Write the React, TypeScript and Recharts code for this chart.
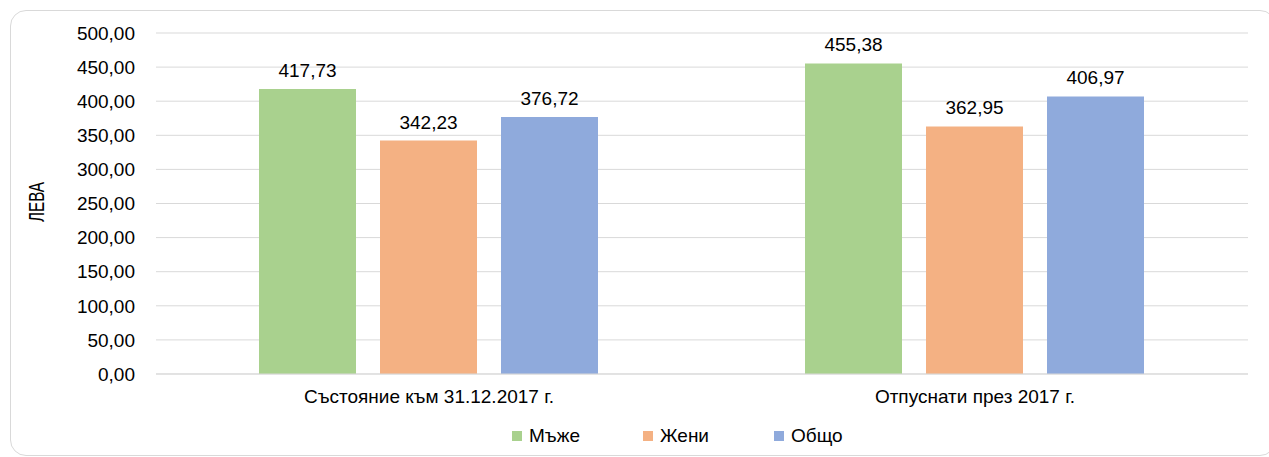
import React from 'react';
import { BarChart, Bar, XAxis, YAxis, CartesianGrid, Legend, LabelList, Label } from 'recharts';

const categories = ['Състояние към 31.12.2017 г.', 'Отпуснати през 2017 г.'];
const men = [417.73, 455.38];
const women = [342.23, 362.95];
const total = [376.72, 406.97];
const yTicks = [0, 50, 100, 150, 200, 250, 300, 350, 400, 450, 500];
const seriesNames = ['Мъже', 'Жени', 'Общо'];
const seriesColors = ['#A9D18E', '#F4B183', '#8FAADC'];
const yLabel = 'ЛЕВА';

const data = categories.map((c, i) => ({ name: c, men: men[i], women: women[i], total: total[i] }));
const keys = ['men', 'women', 'total'];

const fmt = (v: number) => v.toFixed(2).replace('.', ',');
const FONT = '"Liberation Sans", Arial, sans-serif';
const FS = 19;

const LegendContent = () => (
  <div style={{ display: 'flex', height: 24, alignItems: 'center', paddingLeft: 512, fontFamily: FONT, fontSize: FS, color: '#000' }}>
    {seriesNames.map((n, i) => (
      <div key={n} style={{ display: 'flex', alignItems: 'center', width: i < 2 ? 131 : 'auto' }}>
        <span style={{ display: 'inline-block', width: 10, height: 10, background: seriesColors[i], marginRight: 7 }} />
        <span>{n}</span>
      </div>
    ))}
  </div>
);

export default function App() {
  return (
    <div style={{ position: 'absolute', left: 0, top: 0, width: 1269, height: 457, background: '#fff' }}>
      <div style={{ position: 'absolute', left: 10, top: 10, width: 1264, height: 444, border: '1.5px solid #D9D9D9', borderRadius: 16 }} />
      <BarChart
        width={1269}
        height={457}
        data={data}
        margin={{ top: 33, right: 21, left: 0, bottom: 9 }}
        barCategoryGap={103}
        barGap={24}
        style={{ position: 'absolute', left: 0, top: 0 }}
      >
        <CartesianGrid vertical={false} stroke="#D9D9D9" strokeWidth={1} />
        <XAxis
          dataKey="name"
          height={50}
          tickLine={false}
          axisLine={{ stroke: '#D9D9D9' }}
          tickSize={0}
          tickMargin={16}
          tick={{ fill: '#000', fontSize: FS, fontFamily: FONT }}
        />
        <YAxis
          width={156}
          domain={[0, 500]}
          ticks={yTicks}
          interval={0}
          tickLine={false}
          axisLine={false}
          tickSize={0}
          tickMargin={21}
          tickFormatter={fmt}
          tick={{ fill: '#000', fontSize: FS, fontFamily: FONT }}
        >
          <Label
            content={() => (
              <text
                x={36}
                y={202}
                transform="rotate(-90 36 202)"
                textAnchor="middle"
                dominantBaseline="central"
                fontFamily={FONT}
                fontSize={22}
                textLength={40}
                lengthAdjust="spacingAndGlyphs"
                fill="#000"
              >
                {yLabel}
              </text>
            )}
          />
        </YAxis>
        <Legend verticalAlign="bottom" content={LegendContent} wrapperStyle={{ left: 0, width: 1269 }} />
        {keys.map((k, i) => (
          <Bar key={k} dataKey={k} name={seriesNames[i]} fill={seriesColors[i]} isAnimationActive={false}>
            <LabelList
              dataKey={k}
              position="top"
              offset={12}
              formatter={(v: any) => fmt(Number(v))}
              style={{ fill: '#000', fontSize: FS, fontFamily: FONT }}
            />
          </Bar>
        ))}
      </BarChart>
    </div>
  );
}
